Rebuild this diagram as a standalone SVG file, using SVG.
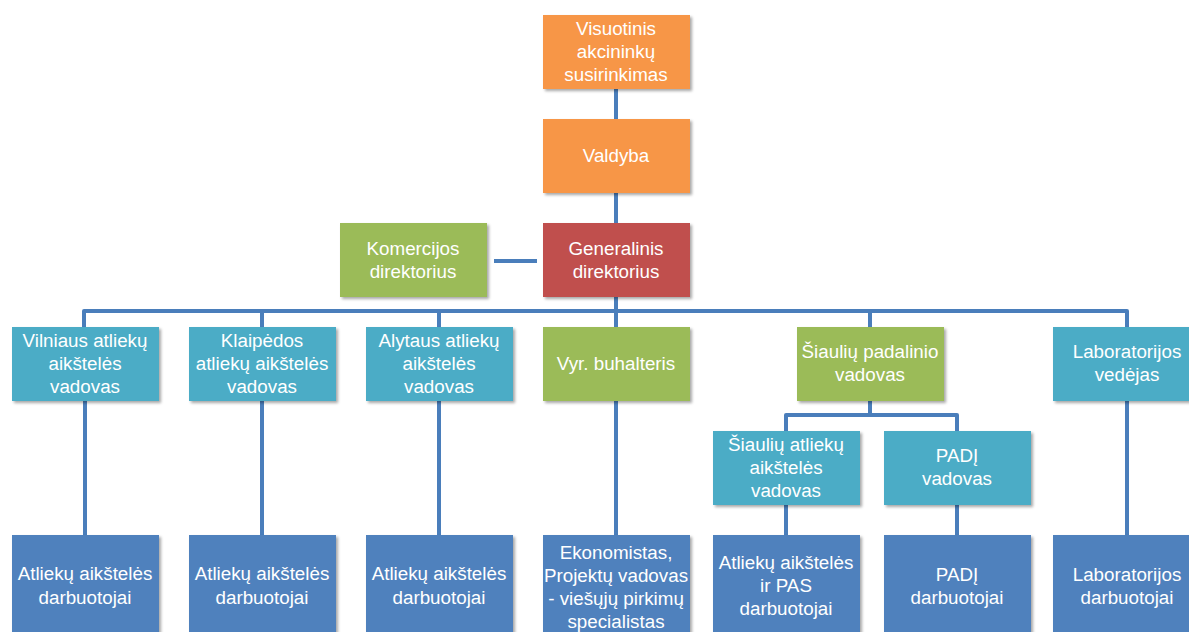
<svg xmlns="http://www.w3.org/2000/svg" width="1189" height="632" viewBox="0 0 1189 632">
<defs>
<filter id="sh" x="-10%" y="-10%" width="130%" height="130%">
<feGaussianBlur in="SourceAlpha" stdDeviation="1.5"/>
<feOffset dx="1.5" dy="2" result="b"/>
<feComponentTransfer><feFuncA type="linear" slope="0.35"/></feComponentTransfer>
<feMerge><feMergeNode/><feMergeNode in="SourceGraphic"/></feMerge>
</filter>
</defs>
<style>
rect{filter:url(#sh)}
.or{fill:#F79646}.rd{fill:#C0504D}.gr{fill:#9BBB59}.tl{fill:#4BACC6}.bl{fill:#4F81BD}
text{font-family:"Liberation Sans","Open Sans",sans-serif;font-size:18.8px;fill:#fff;text-anchor:middle}
.c{fill:none;stroke:#4A7EBB;stroke-width:4;stroke-linejoin:round}
</style>
<rect width="1189" height="632" fill="#fff" style="filter:none"/>
<g id="connectors">
<path class="c" d="M616 89V535"/>
<path class="c" d="M84 328V311H1127V328"/>
<path class="c" d="M262 311V328M439 311V328M870 311V328"/>
<path class="c" d="M85 401V535M262 401V535M439 401V535M1127 401V535"/>
<path class="c" d="M870 401V415M786 431V415H957V431"/>
<path class="c" d="M786 505V535M957 505V535"/>
<path class="c" d="M494 261H537"/>
</g>
<g id="n1"><rect class="or" x="543" y="15" width="147" height="74"/><text x="616" y="35">Visuotinis</text><text x="616" y="58">akcininkų</text><text x="616" y="81">susirinkimas</text></g>
<g id="n2"><rect class="or" x="543" y="119" width="147" height="74"/><text x="616" y="162">Valdyba</text></g>
<g id="n3"><rect class="rd" x="543" y="223" width="147" height="74"/><text x="616" y="255">Generalinis</text><text x="616" y="278">direktorius</text></g>
<g id="n4"><rect class="gr" x="340" y="223" width="147" height="74"/><text x="413" y="255">Komercijos</text><text x="413" y="278">direktorius</text></g>
<g id="n5"><rect class="tl" x="12" y="327" width="147" height="74"/><text x="85" y="347">Vilniaus atliekų</text><text x="85" y="370">aikštelės</text><text x="85" y="393">vadovas</text></g>
<g id="n6"><rect class="tl" x="189" y="327" width="147" height="74"/><text x="262" y="347">Klaipėdos</text><text x="262" y="370">atliekų aikštelės</text><text x="262" y="393">vadovas</text></g>
<g id="n7"><rect class="tl" x="366" y="327" width="147" height="74"/><text x="439" y="347">Alytaus atliekų</text><text x="439" y="370">aikštelės</text><text x="439" y="393">vadovas</text></g>
<g id="n8"><rect class="gr" x="543" y="327" width="147" height="74"/><text x="616" y="370">Vyr. buhalteris</text></g>
<g id="n9"><rect class="gr" x="797" y="327" width="147" height="74"/><text x="870" y="358">Šiaulių padalinio</text><text x="870" y="381">vadovas</text></g>
<g id="n10"><rect class="tl" x="1053" y="327" width="147" height="74"/><text x="1127" y="358">Laboratorijos</text><text x="1127" y="381">vedėjas</text></g>
<g id="n11"><rect class="tl" x="713" y="431" width="147" height="74"/><text x="786" y="451">Šiaulių atliekų</text><text x="786" y="474">aikštelės</text><text x="786" y="497">vadovas</text></g>
<g id="n12"><rect class="tl" x="884" y="431" width="147" height="74"/><text x="957" y="462">PADĮ</text><text x="957" y="485">vadovas</text></g>
<g id="n13"><rect class="bl" x="12" y="535" width="147" height="106"/><text x="85" y="580">Atliekų aikštelės</text><text x="85" y="604">darbuotojai</text></g>
<g id="n14"><rect class="bl" x="189" y="535" width="147" height="106"/><text x="262" y="580">Atliekų aikštelės</text><text x="262" y="604">darbuotojai</text></g>
<g id="n15"><rect class="bl" x="366" y="535" width="147" height="106"/><text x="439" y="580">Atliekų aikštelės</text><text x="439" y="604">darbuotojai</text></g>
<g id="n16"><rect class="bl" x="543" y="535" width="147" height="106"/><text x="616" y="559">Ekonomistas,</text><text x="616" y="582">Projektų vadovas</text><text x="616" y="605">- viešųjų pirkimų</text><text x="616" y="628">specialistas</text></g>
<g id="n17"><rect class="bl" x="713" y="535" width="147" height="106"/><text x="786" y="569">Atliekų aikštelės</text><text x="786" y="592">ir PAS</text><text x="786" y="615">darbuotojai</text></g>
<g id="n18"><rect class="bl" x="884" y="535" width="147" height="106"/><text x="957" y="581">PADĮ</text><text x="957" y="604">darbuotojai</text></g>
<g id="n19"><rect class="bl" x="1053" y="535" width="147" height="106"/><text x="1127" y="581">Laboratorijos</text><text x="1127" y="604">darbuotojai</text></g>
</svg>
